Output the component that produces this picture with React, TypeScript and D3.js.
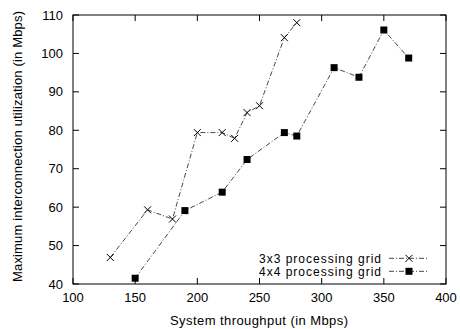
import React, { useEffect, useRef } from 'react'
import * as d3 from 'd3'

const grid3x3X = [130, 160, 180, 200, 220, 230, 240, 250, 270, 280]
const grid3x3Y = [46.9, 59.3, 56.9, 79.4, 79.4, 77.9, 84.6, 86.4, 104.1, 108.0]
const grid4x4X = [150, 190, 220, 240, 270, 280, 310, 330, 350, 370]
const grid4x4Y = [41.5, 59.1, 63.9, 72.4, 79.4, 78.5, 96.3, 93.8, 106.1, 98.8]
const xTicks = [100, 150, 200, 250, 300, 350, 400]
const yTicks = [40, 50, 60, 70, 80, 90, 100, 110]
const seriesNames = ['3x3 processing grid', '4x4 processing grid']

const W = 460
const H = 329
const margin = { left: 73, right: 14, top: 15, bottom: 45 }
const FONT = 'Liberation Sans, Arial, sans-serif'
const FS = 13
const DASH = '5,2,1,2'

const App = () => {
  const svgRef = useRef<SVGSVGElement>(null)

  useEffect(() => {
    const svg = d3.select(svgRef.current)
    svg.selectAll('*').remove()

    const x = d3.scaleLinear().domain([100, 400]).range([margin.left, W - margin.right])
    const y = d3.scaleLinear().domain([40, 110]).range([H - margin.bottom, margin.top])
    const [x0, x1] = x.range()
    const [y0, y1] = y.range()
    const tick = 6

    const g = svg.append('g')

    // ticks, inward on all sides
    xTicks.forEach(t => {
      g.append('line').attr('x1', x(t)).attr('x2', x(t)).attr('y1', y0).attr('y2', y0 - tick)
        .attr('stroke', '#000')
      g.append('line').attr('x1', x(t)).attr('x2', x(t)).attr('y1', y1).attr('y2', y1 + tick)
        .attr('stroke', '#000')
      g.append('text').attr('x', x(t)).attr('y', y0 + 18).attr('text-anchor', 'middle')
        .attr('font-family', FONT).attr('font-size', FS).text(t)
    })
    yTicks.forEach(t => {
      g.append('line').attr('x1', x0).attr('x2', x0 + tick).attr('y1', y(t)).attr('y2', y(t))
        .attr('stroke', '#000')
      g.append('line').attr('x1', x1).attr('x2', x1 - tick).attr('y1', y(t)).attr('y2', y(t))
        .attr('stroke', '#000')
      g.append('text').attr('x', x0 - 10).attr('y', y(t) + 4.5).attr('text-anchor', 'end')
        .attr('font-family', FONT).attr('font-size', FS).text(t)
    })

    // frame
    g.append('rect').attr('x', x0).attr('y', y1).attr('width', x1 - x0).attr('height', y0 - y1)
      .attr('fill', 'none').attr('stroke', '#000')

    // axis titles (reference text runs a bit wider than Liberation Sans)
    g.append('text').attr('x', 170).attr('y', 325)
      .attr('textLength', 178).attr('lengthAdjust', 'spacing')
      .attr('font-family', FONT).attr('font-size', FS).text('System throughput (in Mbps)')
    g.append('text')
      .attr('transform', `translate(22,282) rotate(-90)`)
      .attr('textLength', 271).attr('lengthAdjust', 'spacing')
      .attr('font-family', FONT).attr('font-size', FS)
      .text('Maximum interconnection utilization (in Mbps)')

    const line = d3.line<[number, number]>().x(d => x(d[0])).y(d => y(d[1]))
    const pts3 = grid3x3X.map((v, i) => [v, grid3x3Y[i]] as [number, number])
    const pts4 = grid4x4X.map((v, i) => [v, grid4x4Y[i]] as [number, number])

    const drawCross = (cx: number, cy: number) => {
      const s = 3.5
      g.append('path').attr('d', `M${cx - s},${cy - s}L${cx + s},${cy + s}M${cx - s},${cy + s}L${cx + s},${cy - s}`)
        .attr('stroke', '#000').attr('stroke-width', 1)
    }
    const drawSquare = (cx: number, cy: number) => {
      const s = 3.5
      g.append('rect').attr('x', cx - s).attr('y', cy - s).attr('width', 2 * s).attr('height', 2 * s)
        .attr('fill', '#000')
    }

    g.append('path').attr('d', line(pts3)).attr('fill', 'none').attr('stroke', '#333')
      .attr('stroke-width', 0.9).attr('stroke-dasharray', DASH)
    pts3.forEach(d => drawCross(x(d[0]), y(d[1])))

    g.append('path').attr('d', line(pts4)).attr('fill', 'none').attr('stroke', '#333')
      .attr('stroke-width', 0.9).attr('stroke-dasharray', DASH)
    pts4.forEach(d => drawSquare(x(d[0]), y(d[1])))

    // legend
    const ly = [258.3, 271.3]
    seriesNames.forEach((name, i) => {
      g.append('text').attr('x', 259).attr('y', ly[i] + 4.3)
        .attr('textLength', 122).attr('lengthAdjust', 'spacing')
        .attr('font-family', FONT).attr('font-size', 12).text(name)
      g.append('line').attr('x1', 389).attr('x2', 429).attr('y1', ly[i]).attr('y2', ly[i])
        .attr('stroke', '#333').attr('stroke-width', 0.9).attr('stroke-dasharray', DASH)
      if (i === 0) drawCross(409, ly[i])
      else drawSquare(409, ly[i])
    })
  }, [])

  return (
    <svg ref={svgRef} width={W} height={H}
      style={{ position: 'absolute', left: 0, top: 0, background: '#fff' }} />
  )
}

export default App
